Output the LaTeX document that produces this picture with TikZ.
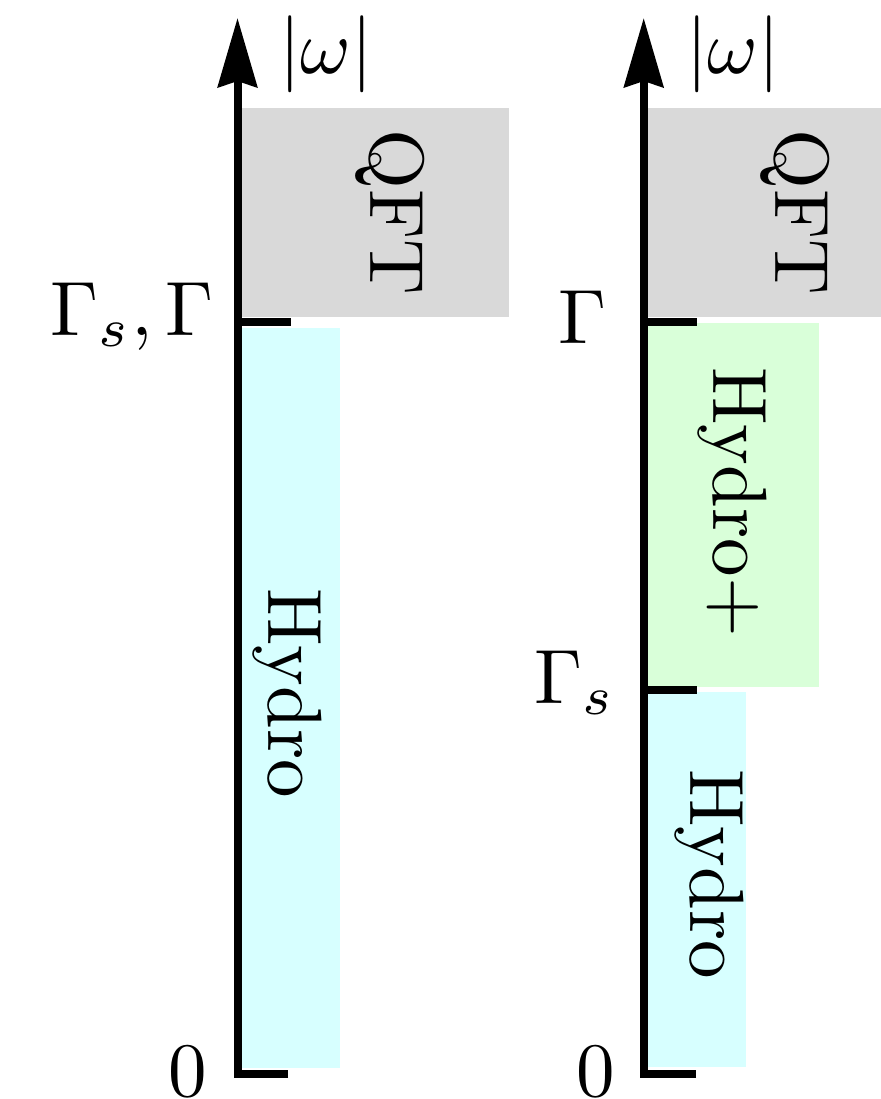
\documentclass[tikz,border=0pt]{standalone}
\usetikzlibrary{arrows.meta}
\definecolor{qftgray}{RGB}{217,217,217}
\definecolor{hydrocyan}{RGB}{215,255,255}
\definecolor{hydrogreen}{RGB}{217,255,217}
% text is set at 10pt and enlarged, so strokes keep the 10pt design weight
\newcommand{\bigtxt}[1]{\scalebox{3.85}{#1}}
\begin{document}
\begin{tikzpicture}[x=0.5pt,y=-0.5pt,
  axisline/.style={line width=4pt,
    -{Stealth[length=34.5pt,width=19.5pt,inset=3pt]}},
  tickline/.style={line width=4pt},
  lbl/.style={inner sep=0pt, font=\fontsize{10}{12}\selectfont},
  regtext/.style={lbl, rotate=-90, anchor=base}]
\useasboundingbox (0,0) rectangle (881,1099);

% regimes, left column
\fill[qftgray]   (241,108) rectangle (509,317);
\fill[hydrocyan] (241,328) rectangle (340,1068);
% regimes, right column
\fill[qftgray]    (647,108) rectangle (881,317);
\fill[hydrogreen] (648,323) rectangle (819,687);
\fill[hydrocyan]  (648,692) rectangle (746,1067);

% left axis
\coordinate (L0)    at (237.5,1074);
\coordinate (L0end) at (288,1074);
\coordinate (Ltop)  at (237.5,18);
\coordinate (LG)    at (237.5,321.5);
\coordinate (LGend) at (291,321.5);
\draw[axisline] (L0end) -- (L0) -- (Ltop);
\draw[tickline] (LG) -- (LGend);

% right axis
\coordinate (R0)     at (643.7,1074);
\coordinate (R0end)  at (696,1074);
\coordinate (Rtop)   at (643.7,18);
\coordinate (RG)     at (643.7,321.5);
\coordinate (RGend)  at (697,321.5);
\coordinate (RGs)    at (643.7,689.5);
\coordinate (RGsend) at (697,689.5);
\draw[axisline] (R0end) -- (R0) -- (Rtop);
\draw[tickline] (RG) -- (RGend);
\draw[tickline] (RGs) -- (RGsend);

% regime names
\node[regtext] (qftL)   at (370,212.5) {\bigtxt{QFT}};
\node[regtext] (hydroL) at (268,693)   {\bigtxt{Hydro}};
\node[regtext] (qftR)   at (775,212.5) {\bigtxt{QFT}};
\node[regtext] (hydroP) at (713,502)   {\bigtxt{Hydro+}};
\node[regtext] (hydroR) at (690,874)   {\bigtxt{Hydro}};

% axis labels
\node[lbl, anchor=base] (wL) at (326,73) {\bigtxt{$|\omega|$}};
\node[lbl, anchor=base] (wR) at (733,73) {\bigtxt{$|\omega|$}};
\node[lbl, anchor=base east] (gL)  at (214,335)    {\bigtxt{$\Gamma_s,\Gamma$}};
\node[lbl, anchor=base east] (gR)  at (607,343)    {\bigtxt{$\Gamma$}};
\node[lbl, anchor=base east] (gsR) at (616,703)    {\bigtxt{$\Gamma_s$}};
\node[lbl, anchor=base east] (zL)  at (207.5,1096) {\bigtxt{$0$}};
\node[lbl, anchor=base east] (zR)  at (615.5,1096) {\bigtxt{$0$}};
\end{tikzpicture}
\end{document}
